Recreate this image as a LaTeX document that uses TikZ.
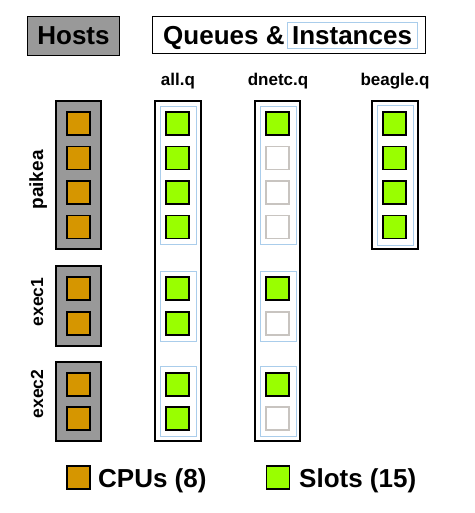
\documentclass[tikz,border=0pt]{standalone}
\usepackage{fontspec}
\setmainfont{Liberation Sans}
\definecolor{cpu}{RGB}{214,150,0}
\definecolor{slot}{RGB}{153,255,0}
\definecolor{hostgray}{RGB}{153,153,153}
\definecolor{instblue}{RGB}{170,205,235}
\definecolor{emptygray}{RGB}{200,196,192}
\begin{document}
\begin{tikzpicture}[x=1pt,y=-1pt,
  sq/.style={draw=black,line width=1.8pt,minimum size=23pt,inner sep=0pt,outer sep=0pt},
  cpusq/.style={sq,fill=cpu},
  slotsq/.style={sq,fill=slot},
  emptysq/.style={sq,draw=emptygray,fill=white},
  hostbox/.style={draw=black,fill=hostgray,line width=1.8pt,minimum width=45pt,inner sep=0pt},
  qbox/.style={draw=black,fill=white,line width=1.8pt,minimum width=46pt,inner sep=0pt},
  ibox/.style={draw=instblue,line width=0.8pt,minimum width=36pt,inner sep=0pt},
  big/.style={font=\fontsize{26}{30}\selectfont\bfseries,inner sep=0pt},
  collabel/.style={font=\fontsize{17}{20}\selectfont\bfseries,inner sep=0pt,anchor=base},
  hostlabel/.style={font=\fontsize{17.5}{20}\selectfont\bfseries,inner sep=0pt,anchor=base,rotate=90},
]
\useasboundingbox (0,0) rectangle (474,513);

% headers
\node[big,draw=black,fill=hostgray,line width=1.8pt,minimum width=92pt,minimum height=39pt] (hosts) at (73.5,36) {Hosts};
\node[draw=black,fill=white,line width=1.8pt,minimum width=273pt,minimum height=37pt,inner sep=0pt] (qi) at (289,35) {};
\node[big,anchor=base west] (queues) at (163,45) {Queues \&};
\node[big,anchor=base,draw=instblue,line width=0.8pt,inner xsep=5pt,text height=23pt,text depth=3pt] (inst) at (352,45) {Instances};

% column labels
\node[collabel] (lall) at (178,86) {all.q};
\node[collabel] (ldnetc) at (278,86) {dnetc.q};
\node[collabel] (lbeagle) at (395,86) {beagle.q};

% host boxes
\node[hostbox,minimum height=148pt] (hpaikea) at (78.5,175) {};
\node[hostbox,minimum height=80pt] (hexec1) at (78.5,306) {};
\node[hostbox,minimum height=79pt] (hexec2) at (78.5,401.5) {};

% host labels
\node[hostlabel,font=\fontsize{19}{22}\selectfont\bfseries] (npaikea) at (43,180) {paikea};
\node[hostlabel] (nexec1) at (43,302) {exec1};
\node[hostlabel] (nexec2) at (43,394) {exec2};

% queue boxes
\node[qbox,minimum height=340pt] (qall) at (178,271) {};
\node[qbox,minimum width=45pt,minimum height=340pt] (qdnetc) at (277.5,271) {};
\node[qbox,minimum height=148pt] (qbeagle) at (395,175) {};

% instance boxes
\node[ibox,minimum height=138pt] (iallp) at (178,175) {};
\node[ibox,minimum height=70pt] (iall1) at (178,306) {};
\node[ibox,minimum height=70pt] (iall2) at (178,401) {};
\node[ibox,minimum height=138pt] (idnp) at (278,175) {};
\node[ibox,minimum height=70pt] (idn1) at (278,306) {};
\node[ibox,minimum height=70pt] (idn2) at (278,401) {};
\node[ibox,minimum height=140pt] (ibgp) at (395,175) {};

% CPUs
\node[cpusq] (cp1) at (78.5,123.5) {};
\node[cpusq] (cp2) at (78.5,158) {};
\node[cpusq] (cp3) at (78.5,192.5) {};
\node[cpusq] (cp4) at (78.5,227) {};
\node[cpusq] (ce11) at (78.5,288.5) {};
\node[cpusq] (ce12) at (78.5,323.5) {};
\node[cpusq] (ce21) at (78.5,384.5) {};
\node[cpusq] (ce22) at (78.5,418.5) {};

% all.q slots
\node[slotsq] (ap1) at (177.5,123.5) {};
\node[slotsq] (ap2) at (177.5,158) {};
\node[slotsq] (ap3) at (177.5,192.5) {};
\node[slotsq] (ap4) at (177.5,227) {};
\node[slotsq] (ae11) at (177.5,288.5) {};
\node[slotsq] (ae12) at (177.5,323.5) {};
\node[slotsq] (ae21) at (177.5,384.5) {};
\node[slotsq] (ae22) at (177.5,418.5) {};

% dnetc.q slots
\node[slotsq] (dp1) at (277.5,123.5) {};
\node[emptysq] (dp2) at (277.5,158) {};
\node[emptysq] (dp3) at (277.5,192.5) {};
\node[emptysq] (dp4) at (277.5,227) {};
\node[slotsq] (de11) at (277.5,288.5) {};
\node[emptysq] (de12) at (277.5,323.5) {};
\node[slotsq] (de21) at (277.5,384.5) {};
\node[emptysq] (de22) at (277.5,418.5) {};

% beagle.q slots
\node[slotsq] (bp1) at (394.5,123.5) {};
\node[slotsq] (bp2) at (394.5,158) {};
\node[slotsq] (bp3) at (394.5,192.5) {};
\node[slotsq] (bp4) at (394.5,227) {};

% legend
\node[cpusq] (legcpu) at (78.5,477.5) {};
\node[big,anchor=base west] (legcputext) at (98,487) {CPUs (8)};
\node[slotsq] (legslot) at (278,477.5) {};
\node[big,anchor=base west] (legslottext) at (299,487) {Slots (15)};
\end{tikzpicture}
\end{document}
